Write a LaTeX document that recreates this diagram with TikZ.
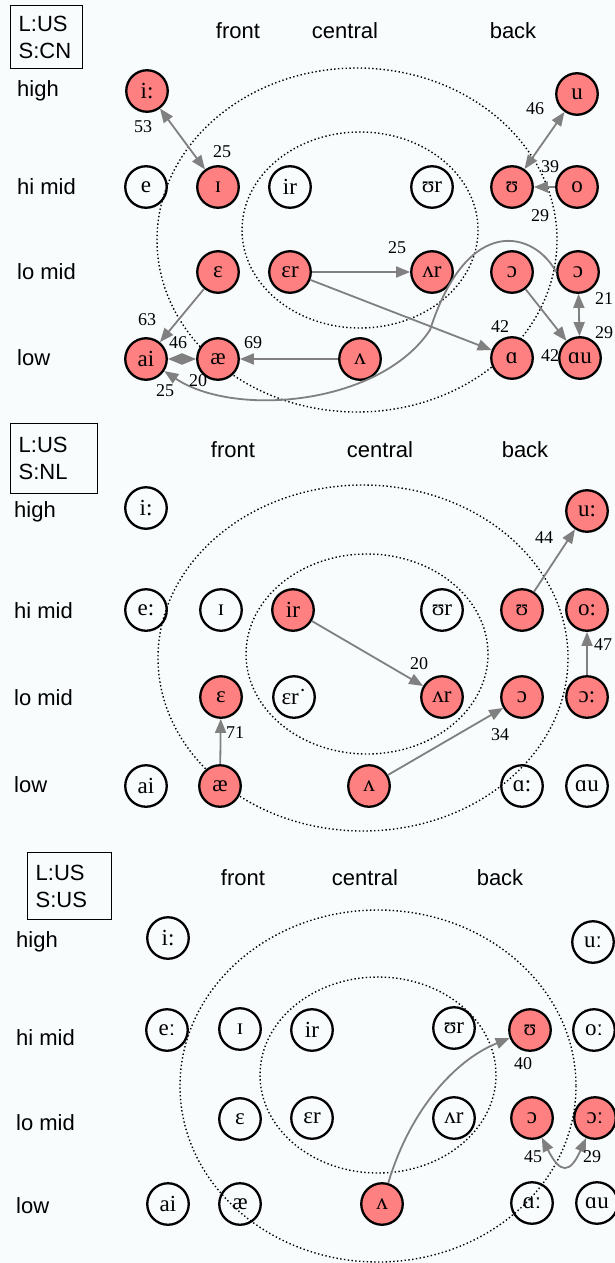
\documentclass[tikz,border=0pt]{standalone}
\usepackage{fontspec}
\setmainfont{Liberation Serif}
\setsansfont{Liberation Sans}
\usetikzlibrary{arrows.meta}
\definecolor{vred}{RGB}{255,128,128}
\definecolor{bgtint}{RGB}{248,252,252}
\definecolor{edgegray}{RGB}{128,128,128}

\begin{document}
\begin{tikzpicture}[x=1pt, y=-1pt,
    vowel/.style={circle, draw, line width=2.3pt, minimum size=41.5pt, inner sep=0pt, font=\fontsize{23}{23}\selectfont},
    vowelhit/.style={vowel, fill=vred},
    link/.style={draw=edgegray, line width=1.8pt, -{Triangle[length=14pt,width=11pt]}},
    twoway/.style={link, {Triangle[length=14pt,width=11pt]}-{Triangle[length=14pt,width=11pt]}},
    weight/.style={font=\fontsize{18}{18}\selectfont, inner sep=0pt},
    colhead/.style={font=\sffamily\fontsize{22}{22}\selectfont, inner sep=0pt},
    rowhead/.style={colhead, anchor=west},
    keybox/.style={draw, line width=1.4pt, anchor=north west, align=left, inner xsep=8pt, inner ysep=3pt, font=\sffamily\fontsize{22}{27}\selectfont},
    region/.style={line width=1.4pt, dash pattern=on 1.4pt off 2.4pt}]
  \useasboundingbox (0,0) rectangle (615,1263);
  \fill[bgtint] (0,0) rectangle (615,1263);
  \clip (0,0) rectangle (615,1263);

  % L:US S:CN
  \draw[region] (357,240) ellipse [x radius=200, y radius=172];
  \draw[region] (360,230) ellipse [x radius=118, y radius=98];
  \node[keybox, text width=56pt, minimum height=63pt] (keya) at (10,5) {L:US\\S:CN};
  \node[colhead] (fronta) at (238,31) {front};
  \node[colhead] (centrala) at (345,31) {central};
  \node[colhead] (backa) at (513,31) {back};
  \node[rowhead] (higha) at (17,91) {high};
  \node[rowhead] (himida) at (17,187) {hi mid};
  \node[rowhead] (lomida) at (17,272) {lo mid};
  \node[rowhead] (lowa) at (17,358) {low};
  \node[vowelhit] (iia) at (147,91) {i:};
  \node[vowelhit] (ua) at (577,94) {u};
  \node[vowel] (ea) at (146,187) {e};
  \node[vowelhit] (Ia) at (218,187) {ɪ};
  \node[vowel] (ira) at (290,187) {ir};
  \node[vowel] (Ura) at (432,187) {ʊr};
  \node[vowelhit] (Ua) at (512,187) {ʊ};
  \node[vowelhit] (oa) at (577,187) {o};
  \node[vowelhit] (Ea) at (218,272) {ɛ};
  \node[vowelhit] (Era) at (290,272) {ɛr};
  \node[vowelhit] (Vra) at (432,272) {ʌr};
  \node[vowelhit] (Oa) at (512,272) {ɔ};
  \node[vowelhit] (OOa) at (578,272) {ɔ};
  \node[vowelhit] (aia) at (146,359) {ai};
  \node[vowelhit] (aea) at (218,359) {æ};
  \node[vowelhit] (Va) at (360,359) {ʌ};
  \node[vowelhit] (Aa) at (512,358) {ɑ};
  \node[vowelhit] (Aua) at (580,358) {ɑu};
  \draw[twoway] (iia) -- (Ia);
  \draw[twoway] (Ua) -- (ua);
  \draw[link] (oa) -- (Ua);
  \draw[link] (Ea) -- (aia);
  \draw[twoway] (aia) -- (aea);
  \draw[link] (Va) -- (aea);
  \draw[link] (Era) -- (Vra);
  \draw[link] (Era) -- (Aa);
  \draw[link] (Oa) -- (Aua);
  \draw[twoway] (OOa) -- (Aua);
  \draw[link] (OOa.west) .. controls (535,232) and (468,212) .. (430,330)
    .. controls (380,405) and (235,418) .. (aia);
  \node[weight] (wa1) at (143,127) {53};
  \node[weight] (wa2) at (222,152) {25};
  \node[weight] (wa3) at (535,109) {46};
  \node[weight] (wa4) at (550,167) {39};
  \node[weight] (wa5) at (540,216) {29};
  \node[weight] (wa6) at (397,248) {25};
  \node[weight] (wa7) at (147,320) {63};
  \node[weight] (wa8) at (178,343) {46};
  \node[weight] (wa9) at (253,343) {69};
  \node[weight] (wa10) at (198,381) {20};
  \node[weight] (wa11) at (165,391) {25};
  \node[weight] (wa12) at (500,327) {42};
  \node[weight] (wa13) at (550,356) {42};
  \node[weight] (wa14) at (604,299) {21};
  \node[weight] (wa15) at (604,333) {29};

  % L:US S:NL
  \draw[region] (363,658) ellipse [x radius=205, y radius=173];
  \draw[region] (367,654) ellipse [x radius=121, y radius=100];
  \node[keybox, text width=71pt, minimum height=70pt] (keyb) at (10,423) {L:US\\S:NL};
  \node[colhead] (frontb) at (233,450) {front};
  \node[colhead] (centralb) at (380,450) {central};
  \node[colhead] (backb) at (525,450) {back};
  \node[rowhead] (highb) at (14,512) {high};
  \node[rowhead] (himidb) at (14,611) {hi mid};
  \node[rowhead] (lomidb) at (14,698) {lo mid};
  \node[rowhead] (lowb) at (14,785) {low};
  \node[vowel] (iib) at (146,508) {i:};
  \node[vowelhit] (ub) at (587,511) {u:};
  \node[vowel] (eb) at (146,610) {e:};
  \node[vowel] (Ib) at (221,610) {ɪ};
  \node[vowelhit] (irb) at (293,610) {ir};
  \node[vowel] (Urb) at (442,610) {ʊr};
  \node[vowelhit] (Ub) at (522,610) {ʊ};
  \node[vowelhit] (ob) at (587,610) {o:};
  \node[vowelhit] (Eb) at (221,697) {ɛ};
  \node[vowel] (Erb) at (294,697) {ɛr˙};
  \node[vowelhit] (Vrb) at (442,697) {ʌr};
  \node[vowelhit] (Ob) at (522,697) {ɔ};
  \node[vowelhit] (OOb) at (587,697) {ɔ:};
  \node[vowel] (aib) at (146,786) {ai};
  \node[vowelhit] (aeb) at (220,786) {æ};
  \node[vowelhit] (Vb) at (369,786) {ʌ};
  \node[vowel] (Ab) at (522,786) {ɑ:};
  \node[vowel] (Aub) at (587,786) {ɑu};
  \draw[link] (Ub) -- (ub);
  \draw[link] (irb) -- (Vrb);
  \draw[link] (aeb) -- (Eb);
  \draw[link] (Vb) -- (Ob);
  \draw[link] (OOb) -- (ob);
  \node[weight] (wb1) at (544,538) {44};
  \node[weight] (wb2) at (419,664) {20};
  \node[weight] (wb3) at (235,733) {71};
  \node[weight] (wb4) at (500,735) {34};
  \node[weight] (wb5) at (603,645) {47};

  % L:US S:US
  \draw[region] (378,1086) ellipse [x radius=198, y radius=176];
  \draw[region] (378,1075) ellipse [x radius=118, y radius=98];
  \node[keybox, text width=68pt, minimum height=67pt] (keyc) at (27,852) {L:US\\S:US};
  \node[colhead] (frontc) at (243,878) {front};
  \node[colhead] (centralc) at (365,878) {central};
  \node[colhead] (backc) at (500,878) {back};
  \node[rowhead] (highc) at (16,942) {high};
  \node[rowhead] (himidc) at (16,1038) {hi mid};
  \node[rowhead] (lomidc) at (16,1123) {lo mid};
  \node[rowhead] (lowc) at (16,1206) {low};
  \node[vowel] (iic) at (168,938) {i:};
  \node[vowel] (uc) at (593,942) {uː};
  \node[vowel] (ec) at (167,1030) {eː};
  \node[vowel] (Ic) at (240,1029) {ɪ};
  \node[vowel] (irc) at (312,1030) {ir};
  \node[vowel] (Urc) at (454,1028) {ʊr};
  \node[vowelhit] (Uc) at (530,1030) {ʊ};
  \node[vowel] (oc) at (594,1030) {oː};
  \node[vowel] (Ec) at (240,1119) {ɛ};
  \node[vowel] (Erc) at (312,1118) {ɛr};
  \node[vowel] (Vrc) at (454,1118) {ʌr};
  \node[vowelhit] (Oc) at (532,1118) {ɔ};
  \node[vowelhit] (OOc) at (595,1118) {ɔː};
  \node[vowel] (aic) at (168,1204) {ai};
  \node[vowel] (aec) at (240,1204) {æ};
  \node[vowelhit] (Vc) at (382,1204) {ʌ};
  \node[vowel] (Ac) at (532,1203) {ɑː};
  \node[vowel] (Auc) at (597,1203) {ɑu};
  \draw[link] (Vc) .. controls (410,1110) and (455,1060) .. (Uc);
  \draw[twoway] (Oc) .. controls (560,1174) and (570,1174) .. (OOc);
  \node[weight] (wc1) at (523,1064) {40};
  \node[weight] (wc2) at (533,1157) {45};
  \node[weight] (wc3) at (592,1157) {29};
\end{tikzpicture}
\end{document}
